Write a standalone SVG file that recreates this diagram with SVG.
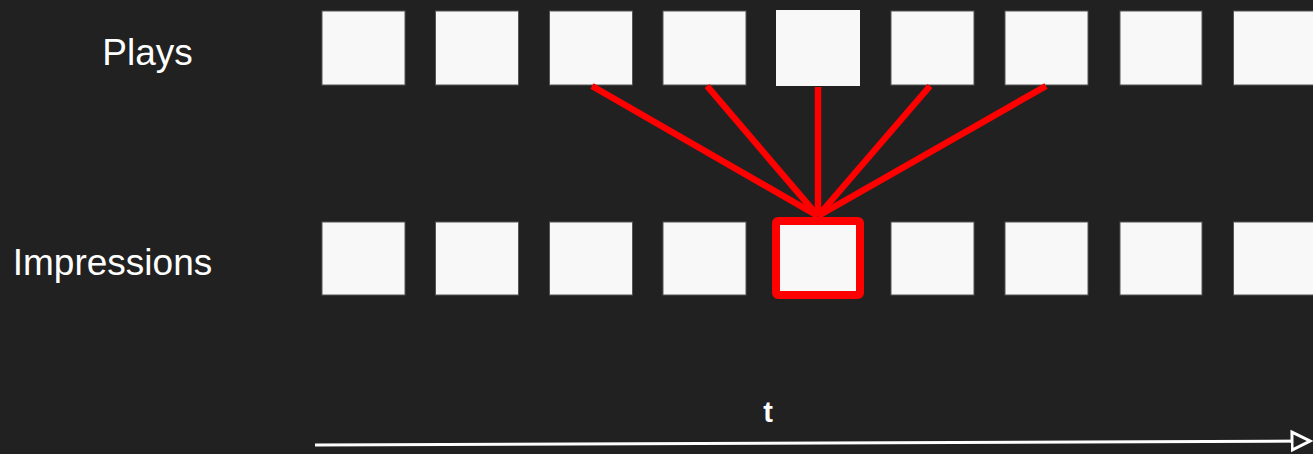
<svg xmlns="http://www.w3.org/2000/svg" width="1313" height="454" viewBox="0 0 1313 454">
<style>
.box{fill:#f8f8f8;stroke:#555;stroke-width:1}
.lbl{font-family:"Liberation Sans",Arial,sans-serif;font-size:37px;fill:#ffffff}
.link{stroke:#ff0000;stroke-width:6.5;stroke-linecap:butt}
</style>
<defs>
<marker id="arr" markerWidth="8" markerHeight="8" refX="6.5" refY="4" orient="auto" markerUnits="strokeWidth">
<path d="M0.5,1 L6.5,4 L0.5,7 Z" fill="#212121" stroke="#ffffff" stroke-width="1"/>
</marker>
</defs>
<rect width="1313" height="454" fill="#212121"/>
<g id="labels">
<text class="lbl" x="147.5" y="65" text-anchor="middle">Plays</text>
<text class="lbl" x="112.5" y="275" text-anchor="middle">Impressions</text>
<text x="768" y="422" text-anchor="middle" font-family="Liberation Sans,Arial,sans-serif" font-weight="bold" font-size="29" fill="#ffffff">t</text>
</g>
<g id="plays">
<rect id="p1" class="box" x="322" y="11" width="83" height="74"/>
<rect id="p2" class="box" x="435.5" y="11" width="83" height="74"/>
<rect id="p3" class="box" x="549.5" y="11" width="83" height="74"/>
<rect id="p4" class="box" x="663" y="11" width="83" height="74"/>
<rect id="p5" x="776" y="10" width="84" height="76" fill="#f8f8f8"/>
<rect id="p6" class="box" x="891" y="11" width="83" height="74"/>
<rect id="p7" class="box" x="1005" y="11" width="83" height="74"/>
<rect id="p8" class="box" x="1120" y="11" width="82" height="74"/>
<rect id="p9" class="box" x="1233.5" y="11" width="83" height="74"/>
</g>
<g id="impressions">
<rect id="i1" class="box" x="322" y="222" width="83" height="73"/>
<rect id="i2" class="box" x="435.5" y="222" width="83" height="73"/>
<rect id="i3" class="box" x="549.5" y="222" width="83" height="73"/>
<rect id="i4" class="box" x="663" y="222" width="83" height="73"/>
<rect id="i5" x="776" y="221" width="84" height="74" rx="2" fill="#f8f8f8" stroke="#ff0000" stroke-width="8"/>
<rect id="i6" class="box" x="891" y="222" width="83" height="73"/>
<rect id="i7" class="box" x="1005" y="222" width="83" height="73"/>
<rect id="i8" class="box" x="1120" y="222" width="82" height="73"/>
<rect id="i9" class="box" x="1233.5" y="222" width="83" height="73"/>
</g>
<g id="connectors">
<line class="link" x1="592" y1="86" x2="818" y2="216"/>
<line class="link" x1="707" y1="86" x2="818" y2="216"/>
<line class="link" x1="818" y1="87" x2="818" y2="216"/>
<line class="link" x1="930" y1="86" x2="818" y2="216"/>
<line class="link" x1="1046" y1="86" x2="818" y2="216"/>
<line x1="315" y1="445" x2="1310" y2="441" stroke="#ffffff" stroke-width="3" marker-end="url(#arr)"/>
</g>
</svg>
